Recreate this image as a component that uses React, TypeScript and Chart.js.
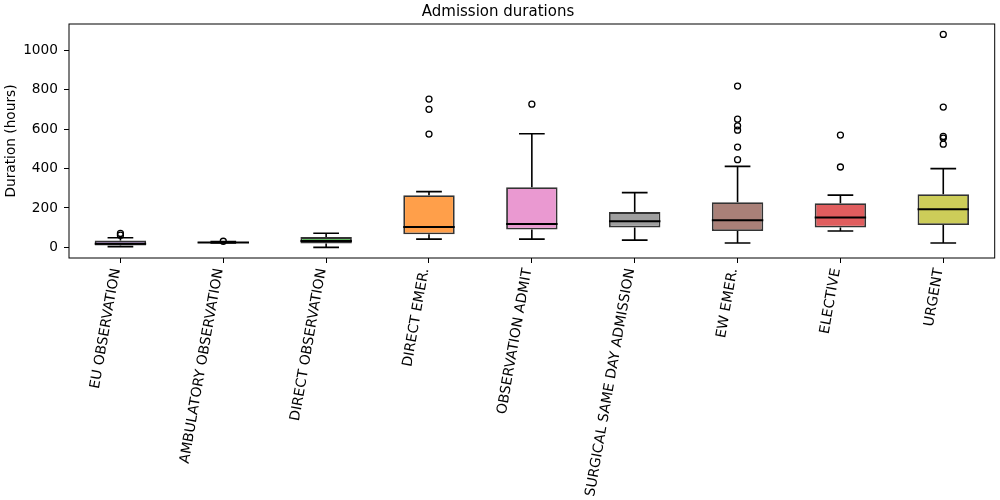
import { useEffect, useRef } from "react";
import { Chart, registerables } from "chart.js";
import type { Plugin } from "chart.js";

Chart.register(...registerables);
Chart.defaults.font.family = "'DejaVu Sans', sans-serif";

const categories = [
  "EU OBSERVATION",
  "AMBULATORY OBSERVATION",
  "DIRECT OBSERVATION",
  "DIRECT EMER.",
  "OBSERVATION ADMIT",
  "SURGICAL SAME DAY ADMISSION",
  "EW EMER.",
  "ELECTIVE",
  "URGENT",
];

// box statistics (hours)
const q1 = [10, 24, 20, 66, 91, 101, 83, 101, 113];
const medians = [18, 25, 32, 103, 118, 133, 138, 152, 194];
const q3 = [35, 27, 52, 265, 305, 179, 229, 224, 270];
const whiskerLow = [4, 22, 0, 42, 42, 37, 22, 83, 22];
const whiskerHigh = [49, 29, 72, 283, 577, 278, 411, 265, 400];
const outliers = [
  [62, 71],
  [31],
  [],
  [575, 701, 753],
  [727],
  [],
  [445, 509, 595, 617, 651, 819],
  [408, 570],
  [524, 555, 563, 712, 1081],
];

const yTicks = [0, 200, 400, 600, 800, 1000];

const boxColors = [
  "#AF8DCD",
  "#5799C7",
  "#61B861",
  "#FF9F4A",
  "#EA99D1",
  "#9F9F9F",
  "#A98078",
  "#E05D5E",
  "#CDCD59",
];

const whiskerPlugin: Plugin<"bar"> = {
  id: "whiskers",
  afterDatasetsDraw(chart) {
    const { ctx } = chart;
    const y = chart.scales.y;
    const meta = chart.getDatasetMeta(0);
    ctx.save();
    ctx.strokeStyle = "#000";
    meta.data.forEach((bar, i) => {
      const { x, width } = bar.getProps(["x", "width"], true) as { x: number; width: number };
      const cap = width / 4;
      const yLo = y.getPixelForValue(whiskerLow[i]);
      const yHi = y.getPixelForValue(whiskerHigh[i]);
      ctx.lineWidth = 1.6;
      ctx.beginPath();
      ctx.moveTo(x, y.getPixelForValue(q1[i]));
      ctx.lineTo(x, yLo);
      ctx.moveTo(x, y.getPixelForValue(q3[i]));
      ctx.lineTo(x, yHi);
      ctx.moveTo(x - cap, yLo);
      ctx.lineTo(x + cap, yLo);
      ctx.moveTo(x - cap, yHi);
      ctx.lineTo(x + cap, yHi);
      ctx.stroke();

      const ym = y.getPixelForValue(medians[i]);
      ctx.lineWidth = 2;
      ctx.beginPath();
      ctx.moveTo(x - width / 2, ym);
      ctx.lineTo(x + width / 2, ym);
      ctx.stroke();
    });

    const { left, top, right, bottom } = chart.chartArea;
    ctx.lineWidth = 1;
    ctx.strokeRect(left, top, right - left, bottom - top);
    ctx.restore();
  },
};

export default function App() {
  const canvasRef = useRef<HTMLCanvasElement | null>(null);

  useEffect(() => {
    document.body.style.margin = "0";
    if (!canvasRef.current) return;

    const outlierPoints = outliers.flatMap((vals, i) =>
      vals.map((v) => ({ x: categories[i], y: v }))
    );

    const chart = new Chart(canvasRef.current, {
      type: "bar",
      data: {
        labels: categories,
        datasets: [
          {
            data: categories.map((_, i) => [q1[i], q3[i]]),
            backgroundColor: boxColors,
            borderColor: "#333",
            borderWidth: 1.8,
            borderSkipped: false,
            barPercentage: 0.5,
            categoryPercentage: 1,
          },
          {
            type: "line",
            data: outlierPoints as any,
            showLine: false,
            pointRadius: 3,
            pointBorderWidth: 1.3,
            pointBorderColor: "#000",
            pointBackgroundColor: "rgba(0,0,0,0)",
          } as any,
        ],
      },
      options: {
        animation: false,
        responsive: true,
        maintainAspectRatio: false,
        layout: { padding: { left: 0, right: 4, top: 0, bottom: 0 } },
        plugins: {
          legend: { display: false },
          tooltip: { enabled: false },
          title: {
            display: true,
            text: "Admission durations",
            color: "#000",
            font: { size: 15, weight: "normal" },
            padding: { top: 3, bottom: 3 },
          },
        },
        scales: {
          x: {
            grid: {
              offset: false,
              drawOnChartArea: false,
              drawTicks: true,
              tickLength: 5,
              color: "#000",
            },
            border: { display: false },
            ticks: {
              color: "#000",
              font: { size: 14 },
              minRotation: 80,
              maxRotation: 80,
              autoSkip: false,
              padding: 4,
              labelOffset: -4,
            },
            afterFit: (scale) => {
              scale.height = 242;
            },
          },
          y: {
            min: -54,
            max: 1134,
            afterBuildTicks: (scale) => {
              scale.ticks = yTicks.map((v) => ({ value: v }));
            },
            grid: {
              drawOnChartArea: false,
              drawTicks: true,
              tickLength: 5,
              color: "#000",
            },
            border: { display: false },
            ticks: {
              color: "#000",
              font: { size: 13.7 },
              padding: 6,
              callback: (v) => String(v),
            },
            title: {
              display: true,
              text: "Duration (hours)",
              color: "#000",
              font: { size: 13.7 },
              padding: { top: 3, bottom: 0 },
            },
            afterFit: (scale) => {
              scale.width = 69;
            },
          },
        },
      },
      plugins: [whiskerPlugin],
    });

    return () => chart.destroy();
  }, []);

  return (
    <div style={{ position: "relative", width: 1000, height: 500 }}>
      <canvas ref={canvasRef} />
    </div>
  );
}
